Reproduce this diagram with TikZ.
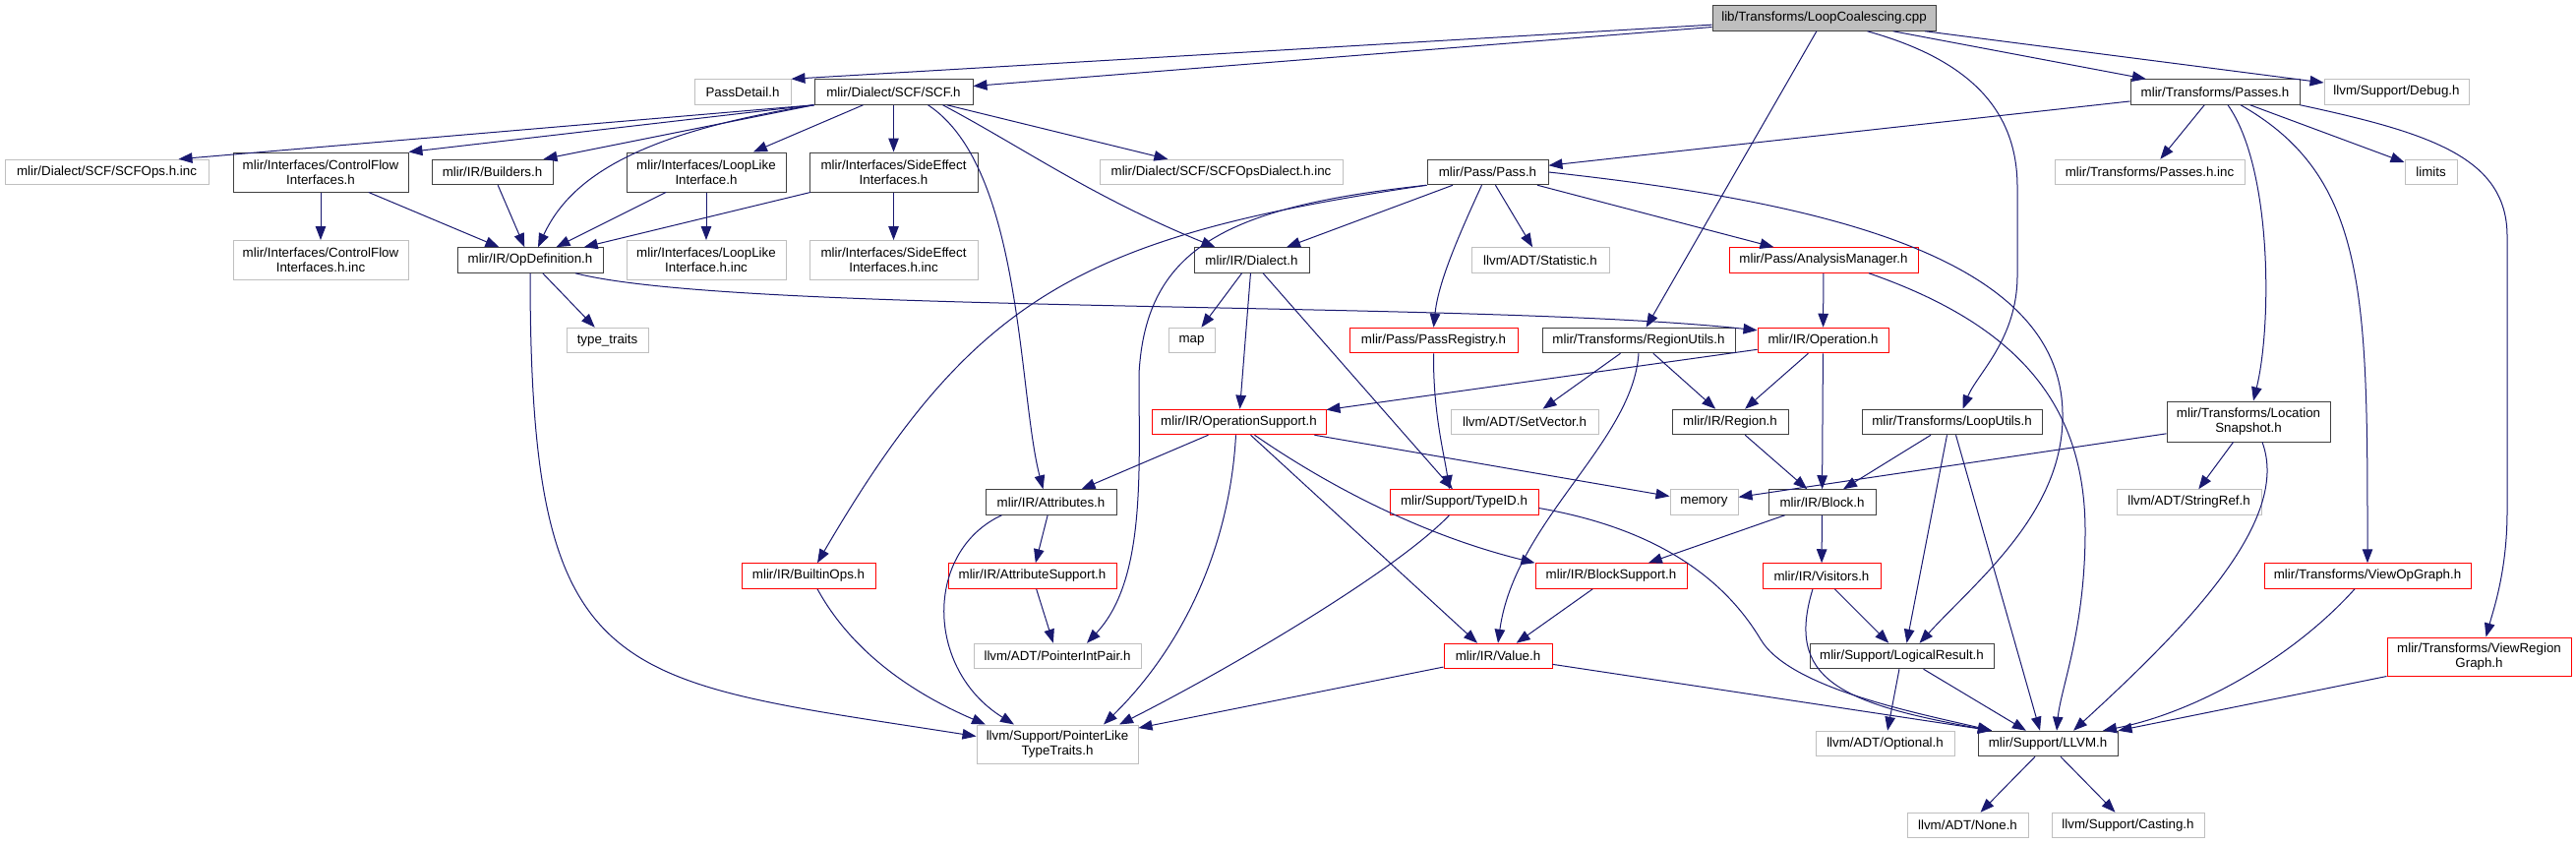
\documentclass[tikz,border=0pt]{standalone}
\usepackage{fontspec}
\setmainfont{Liberation Sans}
\usepackage{xcolor}
\usepackage{tikz}
\usetikzlibrary{arrows.meta}

\definecolor{edgeblue}{RGB}{25,25,112}
\definecolor{extgray}{RGB}{191,191,191}

\begin{document}
\begin{tikzpicture}[x=1pt, y=-1pt,
    hdr/.style={rectangle, draw=black!75, line width=1pt, fill=white, inner sep=2pt, minimum height=25.5pt, align=center, font=\fontsize{13.33pt}{15pt}\selectfont},
    sys/.style={hdr, draw=extgray},
    trunc/.style={hdr, draw=red},
    src/.style={hdr, fill=extgray},
    incl/.style={-{Triangle[length=14pt, width=10.5pt]}, edgeblue, line width=1pt}
  ]
    \path[use as bounding box, fill=white] (0,0) rectangle (2619,857);

    \node[src, minimum width=227pt] (top) at (1854.5,18.5) {lib/Transforms/LoopCoalescing.cpp};

    \node[sys, minimum width=98pt] (detail) at (755,93.5) {PassDetail.h};
    \node[hdr, minimum width=161pt] (scf) at (908.5,93.5) {mlir/Dialect/SCF/SCF.h};
    \node[hdr, minimum width=172pt] (passes) at (2252,93.5) {mlir/Transforms/Passes.h};
    \node[sys, minimum width=147pt] (debug) at (2436.5,93.5) {llvm/Support/Debug.h};

    \node[sys, minimum width=207pt] (scfinc) at (108.5,175) {mlir/Dialect/SCF/SCFOps.h.inc};
    \node[hdr, minimum width=178pt, minimum height=40pt] (cfi) at (326,175) {mlir/Interfaces/ControlFlow\\Interfaces.h};
    \node[hdr, minimum width=123pt] (builders) at (500.5,175) {mlir/IR/Builders.h};
    \node[hdr, minimum width=162pt, minimum height=40pt] (llike) at (718,175) {mlir/Interfaces/LoopLike\\Interface.h};
    \node[hdr, minimum width=171pt, minimum height=40pt] (seff) at (908.5,175) {mlir/Interfaces/SideEffect\\Interfaces.h};
    \node[sys, minimum width=247pt] (dialinc) at (1241.5,175) {mlir/Dialect/SCF/SCFOpsDialect.h.inc};
    \node[hdr, minimum width=123pt] (pass) at (1512.5,175) {mlir/Pass/Pass.h};
    \node[sys, minimum width=193pt] (passinc) at (2185.5,175) {mlir/Transforms/Passes.h.inc};
    \node[sys, minimum width=53pt] (limits) at (2471.5,175) {limits};

    \node[sys, minimum width=178pt, minimum height=40pt] (cfiinc) at (326,264.5) {mlir/Interfaces/ControlFlow\\Interfaces.h.inc};
    \node[hdr, minimum width=148pt] (opdef) at (539,264.5) {mlir/IR/OpDefinition.h};
    \node[sys, minimum width=162pt, minimum height=40pt] (llikeinc) at (718,264.5) {mlir/Interfaces/LoopLike\\Interface.h.inc};
    \node[sys, minimum width=171pt, minimum height=40pt] (seffinc) at (908.5,264.5) {mlir/Interfaces/SideEffect\\Interfaces.h.inc};
    \node[hdr, minimum width=117pt] (dialect) at (1272.5,264.5) {mlir/IR/Dialect.h};
    \node[sys, minimum width=140pt] (stat) at (1566,264.5) {llvm/ADT/Statistic.h};
    \node[trunc, minimum width=192pt] (am) at (1854,264.5) {mlir/Pass/AnalysisManager.h};

    \node[sys, minimum width=83pt] (traits) at (617.5,346) {type\_traits};
    \node[sys, minimum width=47pt] (map) at (1211.5,346) {map};
    \node[trunc, minimum width=171pt] (preg) at (1457.5,346) {mlir/Pass/PassRegistry.h};
    \node[hdr, minimum width=196pt] (rutils) at (1666,346) {mlir/Transforms/RegionUtils.h};
    \node[trunc, minimum width=133pt] (op) at (1853.5,346) {mlir/IR/Operation.h};

    \node[trunc, minimum width=177pt] (opsup) at (1259.5,429) {mlir/IR/OperationSupport.h};
    \node[sys, minimum width=150pt] (setvec) at (1550,429) {llvm/ADT/SetVector.h};
    \node[hdr, minimum width=118pt] (region) at (1759,429) {mlir/IR/Region.h};
    \node[hdr, minimum width=183pt] (lutils) at (1984.5,429) {mlir/Transforms/LoopUtils.h};
    \node[hdr, minimum width=166pt, minimum height=41pt] (locsnap) at (2286,428.5) {mlir/Transforms/Location\\Snapshot.h};

    \node[hdr, minimum width=133pt] (attr) at (1068.5,510.5) {mlir/IR/Attributes.h};
    \node[trunc, minimum width=151pt] (typeid) at (1488.5,510.5) {mlir/Support/TypeID.h};
    \node[sys, minimum width=69pt] (memory) at (1732.5,510.5) {memory};
    \node[hdr, minimum width=109pt] (block) at (1852.5,510.5) {mlir/IR/Block.h};
    \node[sys, minimum width=147pt] (strref) at (2225.5,510.5) {llvm/ADT/StringRef.h};

    \node[trunc, minimum width=136pt] (builtin) at (822,585.5) {mlir/IR/BuiltinOps.h};
    \node[trunc, minimum width=171pt] (attrsup) at (1049.5,585.5) {mlir/IR/AttributeSupport.h};
    \node[trunc, minimum width=154pt] (blksup) at (1638,585.5) {mlir/IR/BlockSupport.h};
    \node[trunc, minimum width=120pt] (visitors) at (1852,585.5) {mlir/IR/Visitors.h};
    \node[trunc, minimum width=210pt] (viewop) at (2407,585.5) {mlir/Transforms/ViewOpGraph.h};

    \node[sys, minimum width=170pt] (pip) at (1075,667) {llvm/ADT/PointerIntPair.h};
    \node[trunc, minimum width=110pt] (value) at (1523,667) {mlir/IR/Value.h};
    \node[hdr, minimum width=187pt] (logres) at (1933.5,667) {mlir/Support/LogicalResult.h};
    \node[trunc, minimum width=187pt, minimum height=39pt] (viewreg) at (2520.5,667.5) {mlir/Transforms/ViewRegion\\Graph.h};

    \node[sys, minimum width=164pt, minimum height=39pt] (plt) at (1075,756.5) {llvm/Support/PointerLike\\TypeTraits.h};
    \node[sys, minimum width=141pt] (optional) at (1916.5,756) {llvm/ADT/Optional.h};
    \node[hdr, minimum width=142pt] (llvm) at (2082,756) {mlir/Support/LLVM.h};

    \node[sys, minimum width=123pt] (none) at (2000.5,839) {llvm/ADT/None.h};
    \node[sys, minimum width=155pt] (casting) at (2163.5,839) {llvm/Support/Casting.h};

    % includes of the source file
    \draw[incl] (top) -- (detail.north east);
    \draw[incl] (top) -- ([yshift=6pt]scf.east);
    \draw[incl] (top) -- (rutils);
    \draw[incl] ([xshift=44pt]top.south) .. controls (2000,60) and (2051,110) .. (2051,190) -- (2051,280) .. controls (2051,345) and (2010,380) .. ([xshift=11pt]lutils.north);
    \draw[incl] (top) -- (passes);
    \draw[incl] (top) -- (debug);

    \draw[incl] (scf.south west) -- ([xshift=-31pt]scfinc.north east);
    \draw[incl] (scf.south west) -- (cfi.north east);
    \draw[incl] (scf.south west) -- ([xshift=-10pt]builders.north east);
    \draw[incl] (scf.south west) .. controls (650,135) and (580,180) .. ([xshift=8pt]opdef.north);
    \draw[incl] (scf) -- (llike);
    \draw[incl] (scf) -- (seff);
    \draw[incl] ([xshift=35pt]scf.south) .. controls (1040,170) and (1035,400) .. ([xshift=-8pt]attr.north);
    \draw[incl] ([xshift=50pt]scf.south) .. controls (1040,150) and (1110,200) .. ([xshift=-37pt]dialect.north);
    \draw[incl] (scf) -- (dialinc);

    \draw[incl] (cfi) -- (cfiinc);
    \draw[incl] (cfi) -- (opdef);
    \draw[incl] (builders) -- (opdef);
    \draw[incl] (llike) -- (opdef);
    \draw[incl] (llike) -- (llikeinc);
    \draw[incl] (seff) -- (opdef);
    \draw[incl] (seff) -- (seffinc);

    \draw[incl] (opdef) -- (traits);
    \draw[incl] (opdef.south) .. controls (539,700) and (620,690) .. ([yshift=8pt]plt.west);
    \draw[incl] ([xshift=46pt]opdef.south) .. controls (750,320) and (1500,305) .. ([yshift=-3pt]op.north west);

    \draw[incl] (dialect) -- (map);
    \draw[incl] (dialect) -- (opsup);
    \draw[incl] (dialect) -- (typeid);

    \draw[incl] (pass) -- (dialect);
    \draw[incl] ([xshift=-6pt]pass.south) .. controls (1478,250) and (1462,290) .. (preg.north);
    \draw[incl] (pass) -- (stat);
    \draw[incl] (pass) -- (am);
    \draw[incl] (pass.south west) .. controls (1100,240) and (990,300) .. ([xshift=9pt]builtin.north);
    \draw[incl] (pass.south west) .. controls (1250,210) and (1165,250) .. (1158,380) .. controls (1158,480) and (1165,590) .. ([xshift=30pt]pip.north);
    \draw[incl] (pass.east) .. controls (1850,205) and (2095,260) .. (2097,420) .. controls (2099,520) and (2010,590) .. ([xshift=18pt]logres.north);

    \draw[incl] (am) -- (op);
    \draw[incl] ([xshift=46pt]am.south) .. controls (2050,330) and (2120,410) .. (2120,540) .. controls (2120,640) and (2095,700) .. ([xshift=9pt]llvm.north);

    \draw[incl] (preg.south) .. controls (1457,420) and (1468,460) .. ([xshift=-15pt]typeid.north);

    \draw[incl] (rutils) -- (setvec);
    \draw[incl] (rutils) -- (region);
    \draw[incl] (rutils.south) .. controls (1660,450) and (1540,530) .. (value.north);

    \draw[incl] (op) -- (opsup);
    \draw[incl] (op) -- (region);
    \draw[incl] (op) -- (block);
    \draw[incl] (region) -- (block);

    \draw[incl] (lutils) -- (block);
    \draw[incl] ([xshift=-5pt]lutils.south) -- ([xshift=5pt]logres.north);
    \draw[incl] ([xshift=4pt]lutils.south) -- ([xshift=-8pt]llvm.north);

    \draw[incl] (locsnap) -- (memory);
    \draw[incl] (locsnap) -- (strref);
    \draw[incl] ([xshift=14pt]locsnap.south) .. controls (2330,530) and (2220,640) .. ([xshift=26pt]llvm.north);

    \draw[incl] ([xshift=-13pt]viewop.south) .. controls (2330,670) and (2230,725) .. ([xshift=56pt]llvm.north);
    \draw[incl] (viewreg.south west) -- (llvm.north east);

    \draw[incl] (logres) -- (llvm);
    \draw[incl] (logres) -- (optional);
    \draw[incl] (llvm) -- (none);
    \draw[incl] (llvm) -- (casting);

    \draw[incl] (passes) -- (pass);
    \draw[incl] (passes) -- (passinc);
    \draw[incl] (passes) -- (limits);
    \draw[incl] ([xshift=13pt]passes.south) .. controls (2310,170) and (2310,330) .. ([xshift=5pt]locsnap.north);
    \draw[incl] ([xshift=26pt]passes.south) .. controls (2407,180) and (2407,300) .. (viewop.north);
    \draw[incl] (passes.south east) .. controls (2470,135) and (2549,160) .. (2549,240) -- (2549,520) .. controls (2549,580) and (2535,620) .. ([xshift=7pt]viewreg.north);

    \draw[incl] (opsup) -- (attr);
    \draw[incl] ([xshift=-3pt]opsup.south) .. controls (1250,560) and (1200,660) .. ([xshift=47pt]plt.north);
    \draw[incl] ([xshift=12pt]opsup.south) -- ([xshift=-21pt]value.north);
    \draw[incl] ([xshift=16pt]opsup.south) .. controls (1330,480) and (1430,540) .. (blksup.north west);
    \draw[incl] (opsup) -- (memory);

    \draw[incl] (attr) -- (attrsup);
    \draw[incl] ([xshift=-50pt]attr.south) .. controls (940,560) and (940,680) .. ([xshift=-44pt]plt.north);
    \draw[incl] ([xshift=9pt]builtin.south) .. controls (870,670) and (940,710) .. ([xshift=-73pt]plt.north);
    \draw[incl] (attrsup) -- (pip);

    \draw[incl] ([xshift=-15pt]typeid.south) .. controls (1420,580) and (1250,680) .. ([xshift=63pt]plt.north);
    \draw[incl] ([yshift=-6pt]typeid.east) .. controls (1700,540) and (1760,600) .. (1790,650) .. controls (1820,700) and (1950,725) .. ([xshift=-57pt]llvm.north);

    \draw[incl] (block) -- (blksup);
    \draw[incl] (block) -- (visitors);
    \draw[incl] (blksup) -- (value);
    \draw[incl] (visitors) -- (logres);
    \draw[incl] ([xshift=-9pt]visitors.south) .. controls (1815,690) and (1870,715) .. ([xshift=-57pt]llvm.north);

    \draw[incl] (value) -- (plt);
    \draw[incl] (value) -- ([xshift=-57pt]llvm.north);
\end{tikzpicture}
\end{document}
